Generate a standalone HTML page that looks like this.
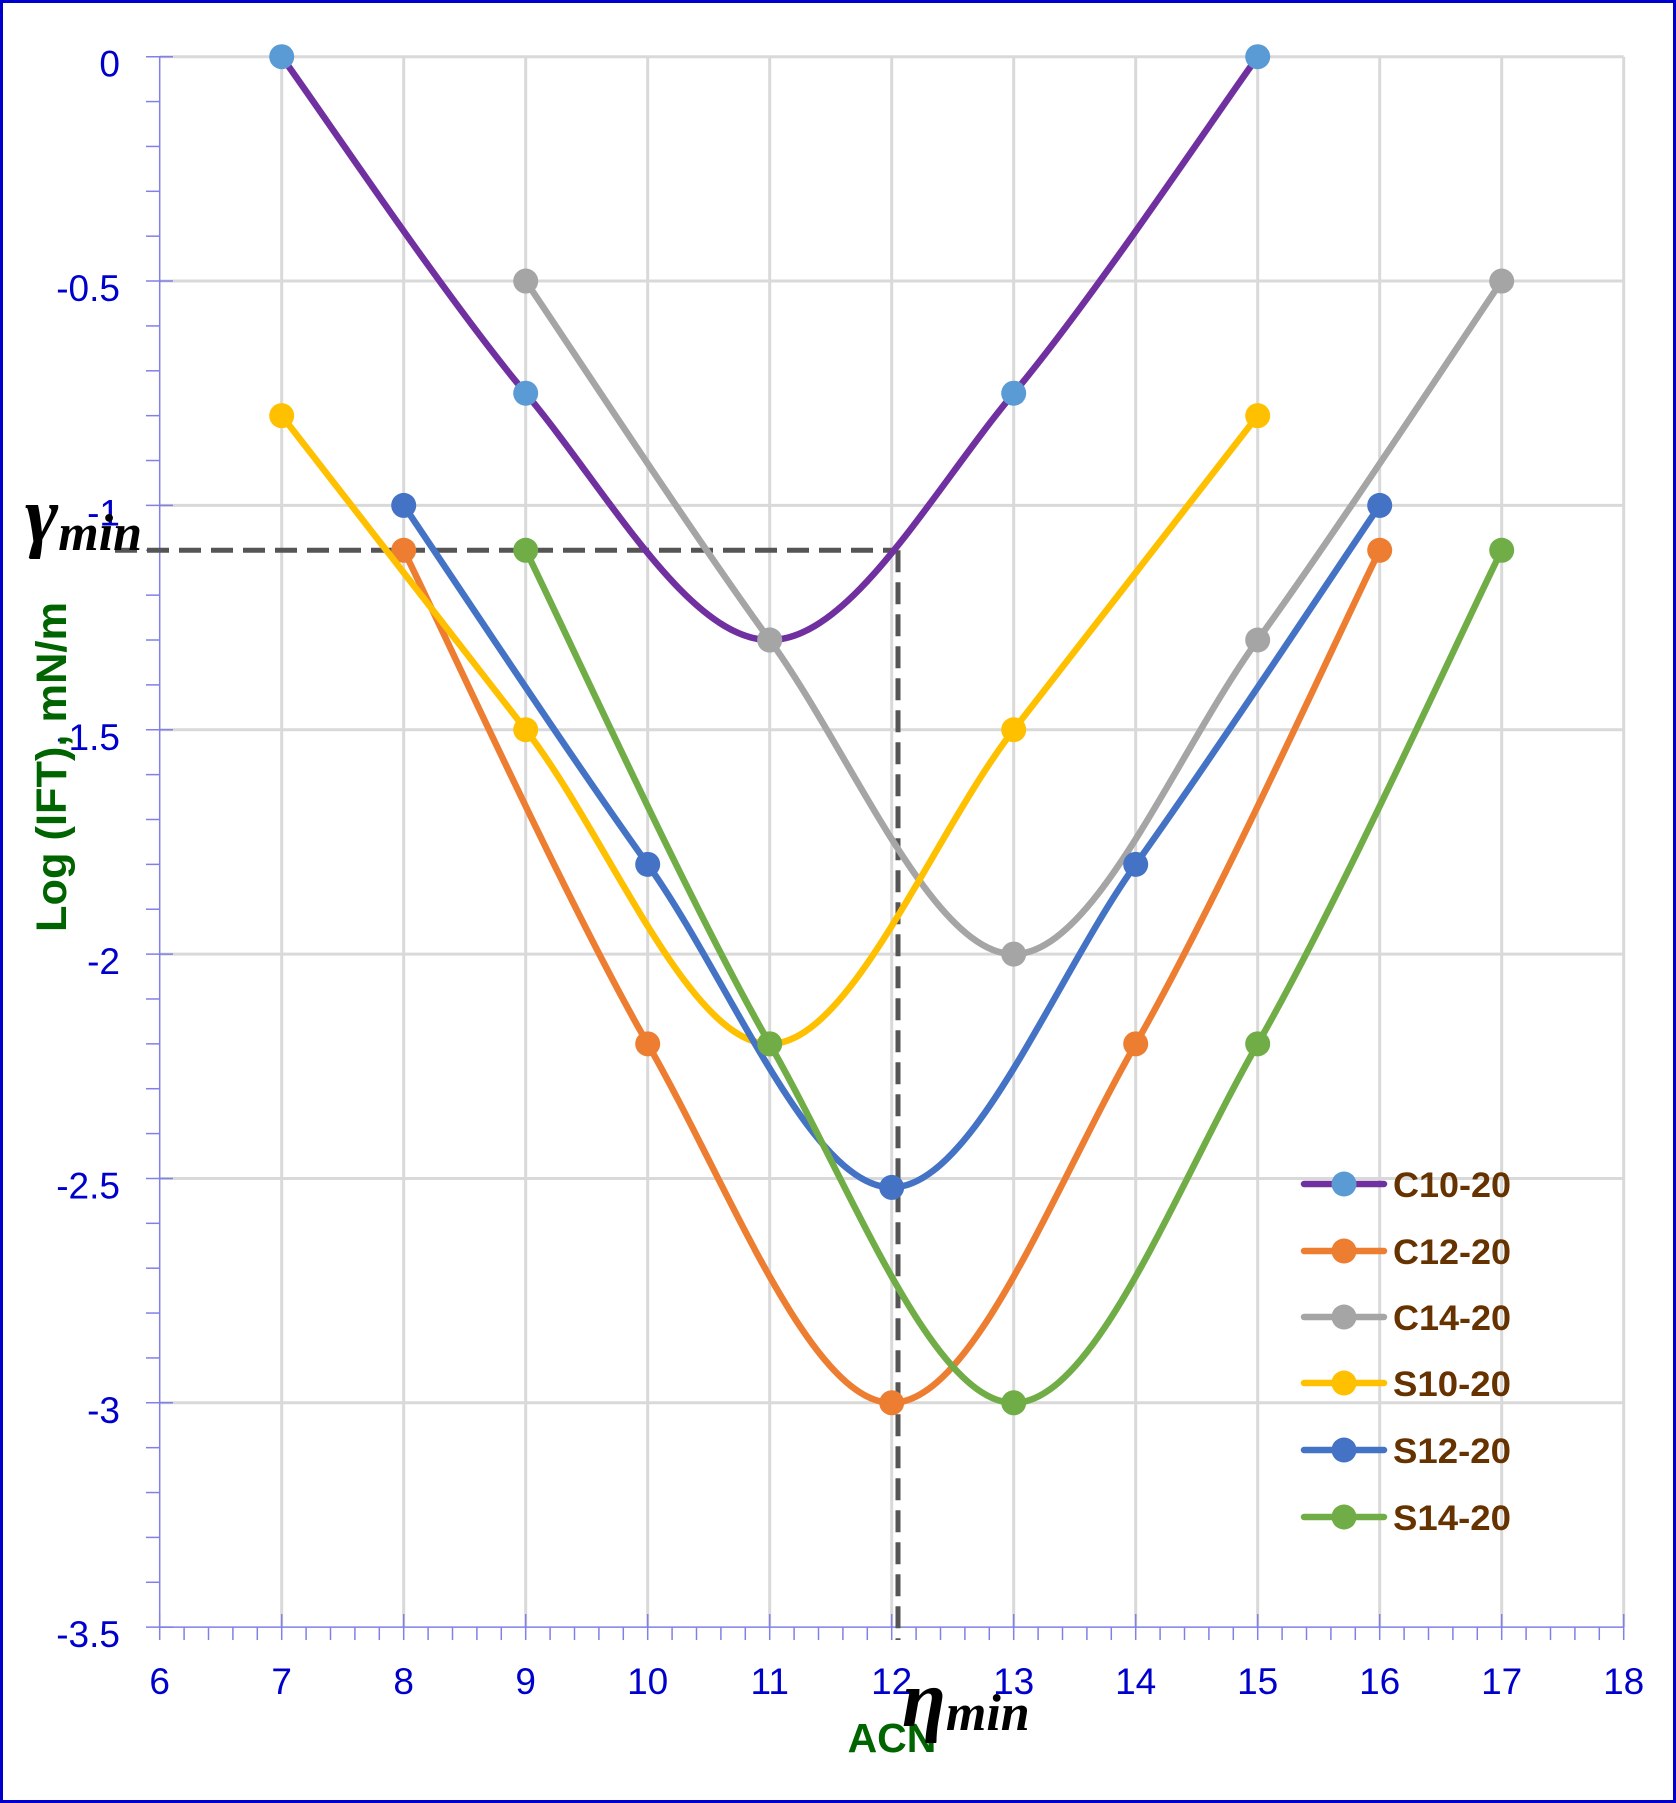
<!DOCTYPE html>
<html><head><meta charset="utf-8"><style>
html,body{margin:0;padding:0;background:#fff}
body{width:1676px;height:1803px;position:relative;overflow:hidden}
#b{position:absolute;left:0;top:0;width:1670px;height:1797px;border:3px solid #0000CC}
svg{position:absolute;left:0;top:0}
</style></head><body>
<div id="b"></div>
<svg id="s" width="1676" height="1803" xmlns="http://www.w3.org/2000/svg" font-family="Liberation Sans, sans-serif"></svg>
<script>
const s=document.getElementById('s');
const X=v=>159.7+122*(v-6), Y=v=>56.7-448.7*v;
let h='';
for(let v=7;v<=18;v++) h+=`<line x1="${X(v)}" y1="${Y(0)}" x2="${X(v)}" y2="${Y(-3.5)}" stroke="#D9D9D9" stroke-width="3"/>`;
for(let k=0;k<7;k++){let v=-k*0.5;h+=`<line x1="${X(6)}" y1="${Y(v)}" x2="${X(18)}" y2="${Y(v)}" stroke="#D9D9D9" stroke-width="3"/>`;}
h+=`<line x1="${X(6)}" y1="${Y(0)}" x2="${X(6)}" y2="${Y(-3.5)}" stroke="#8080E8" stroke-width="1.5"/>`;
h+=`<line x1="${X(6)}" y1="${Y(-3.5)}" x2="${X(18)}" y2="${Y(-3.5)}" stroke="#8080E8" stroke-width="1.5"/>`;
for(let k=0;k<=35;k++){let v=-k*0.1,maj=k%5==0;h+=`<line x1="146" y1="${Y(v)}" x2="${maj?173:160}" y2="${Y(v)}" stroke="#8080E8" stroke-width="1.5"/>`;
 if(maj){let t=(v===0?'0':(-k/10).toString());h+=`<text x="120" y="${Y(v)+20}" font-size="37" fill="#0000CC" text-anchor="end">${t}</text>`;}}
for(let k=0;k<=60;k++){let v=6+k*0.2,maj=k%5==0;h+=`<line x1="${X(v)}" y1="${maj?1614:1627}" x2="${X(v)}" y2="1640" stroke="#8080E8" stroke-width="1.5"/>`;
 if(maj)h+=`<text x="${X(v)}" y="1694" font-size="37" fill="#0000CC" text-anchor="middle">${Math.round(v)}</text>`;}
h+=`<line x1="115" y1="${Y(-1.1)}" x2="898" y2="${Y(-1.1)}" stroke="#555" stroke-width="5" stroke-dasharray="22,10"/>`;
h+=`<line x1="898" y1="${Y(-1.1)}" x2="898" y2="1640" stroke="#555" stroke-width="5" stroke-dasharray="22,10"/>`;
const S=[
['C10-20','#7030A0','#5B9BD5',[[7,0],[9,-0.75],[11,-1.3],[13,-0.75],[15,0]]],
['C12-20','#ED7D31','#ED7D31',[[8,-1.1],[10,-2.2],[12,-3],[14,-2.2],[16,-1.1]]],
['C14-20','#A5A5A5','#A5A5A5',[[9,-0.5],[11,-1.3],[13,-2],[15,-1.3],[17,-0.5]]],
['S10-20','#FFC000','#FFC000',[[7,-0.8],[9,-1.5],[11,-2.2],[13,-1.5],[15,-0.8]]],
['S12-20','#4472C4','#4472C4',[[8,-1],[10,-1.8],[12,-2.52],[14,-1.8],[16,-1]]],
['S14-20','#70AD47','#70AD47',[[9,-1.1],[11,-2.2],[13,-3],[15,-2.2],[17,-1.1]]]];
const ly=[1184,1251,1317,1383,1450,1517];
S.forEach((sr,i)=>{const p=sr[3].map(q=>[X(q[0]),Y(q[1])]);let d=`M${p[0][0]},${p[0][1]}`;
 for(let j=0;j<p.length-1;j++){const p0=p[Math.max(j-1,0)],p1=p[j],p2=p[j+1],p3=p[Math.min(j+2,p.length-1)];
  const c1=[p1[0]+(p2[0]-p0[0])/6,p1[1]+(p2[1]-p0[1])/6],c2=[p2[0]-(p3[0]-p1[0])/6,p2[1]-(p3[1]-p1[1])/6];
  d+=` C${c1[0]},${c1[1]} ${c2[0]},${c2[1]} ${p2[0]},${p2[1]}`;}
 h+=`<path d="${d}" fill="none" stroke="${sr[1]}" stroke-width="6.5" stroke-linecap="round"/>`;
 p.forEach(q=>h+=`<circle cx="${q[0]}" cy="${q[1]}" r="12.5" fill="${sr[2]}"/>`);
 h+=`<line x1="1304" y1="${ly[i]}" x2="1384" y2="${ly[i]}" stroke="${sr[1]}" stroke-width="6.5" stroke-linecap="round"/><circle cx="1344" cy="${ly[i]}" r="12.5" fill="${sr[2]}"/>`;
 h+=`<text x="1393" y="${ly[i]+13}" font-size="35" font-weight="bold" fill="#663300" textLength="118" lengthAdjust="spacingAndGlyphs">${sr[0]}</text>`;});
h+=`<text transform="translate(66,767) rotate(-90)" font-size="43" font-weight="bold" fill="#006400" text-anchor="middle" textLength="330" lengthAdjust="spacingAndGlyphs">Log (IFT), mN/m</text>`;
h+=`<text x="892" y="1752" font-size="41" font-weight="bold" fill="#006400" text-anchor="middle">ACN</text>`;
h+=`<text x="25" y="542" font-family="Liberation Serif, serif" font-style="italic" font-weight="bold" font-size="80" fill="#000">γ<tspan font-size="52" dy="8">min</tspan></text>`;
h+=`<text x="902" y="1726" font-family="Liberation Serif, serif" font-style="italic" font-weight="bold" font-size="80" fill="#000">η<tspan font-size="52" dy="4">min</tspan></text>`;
s.innerHTML=h;
</script>
</body></html>
